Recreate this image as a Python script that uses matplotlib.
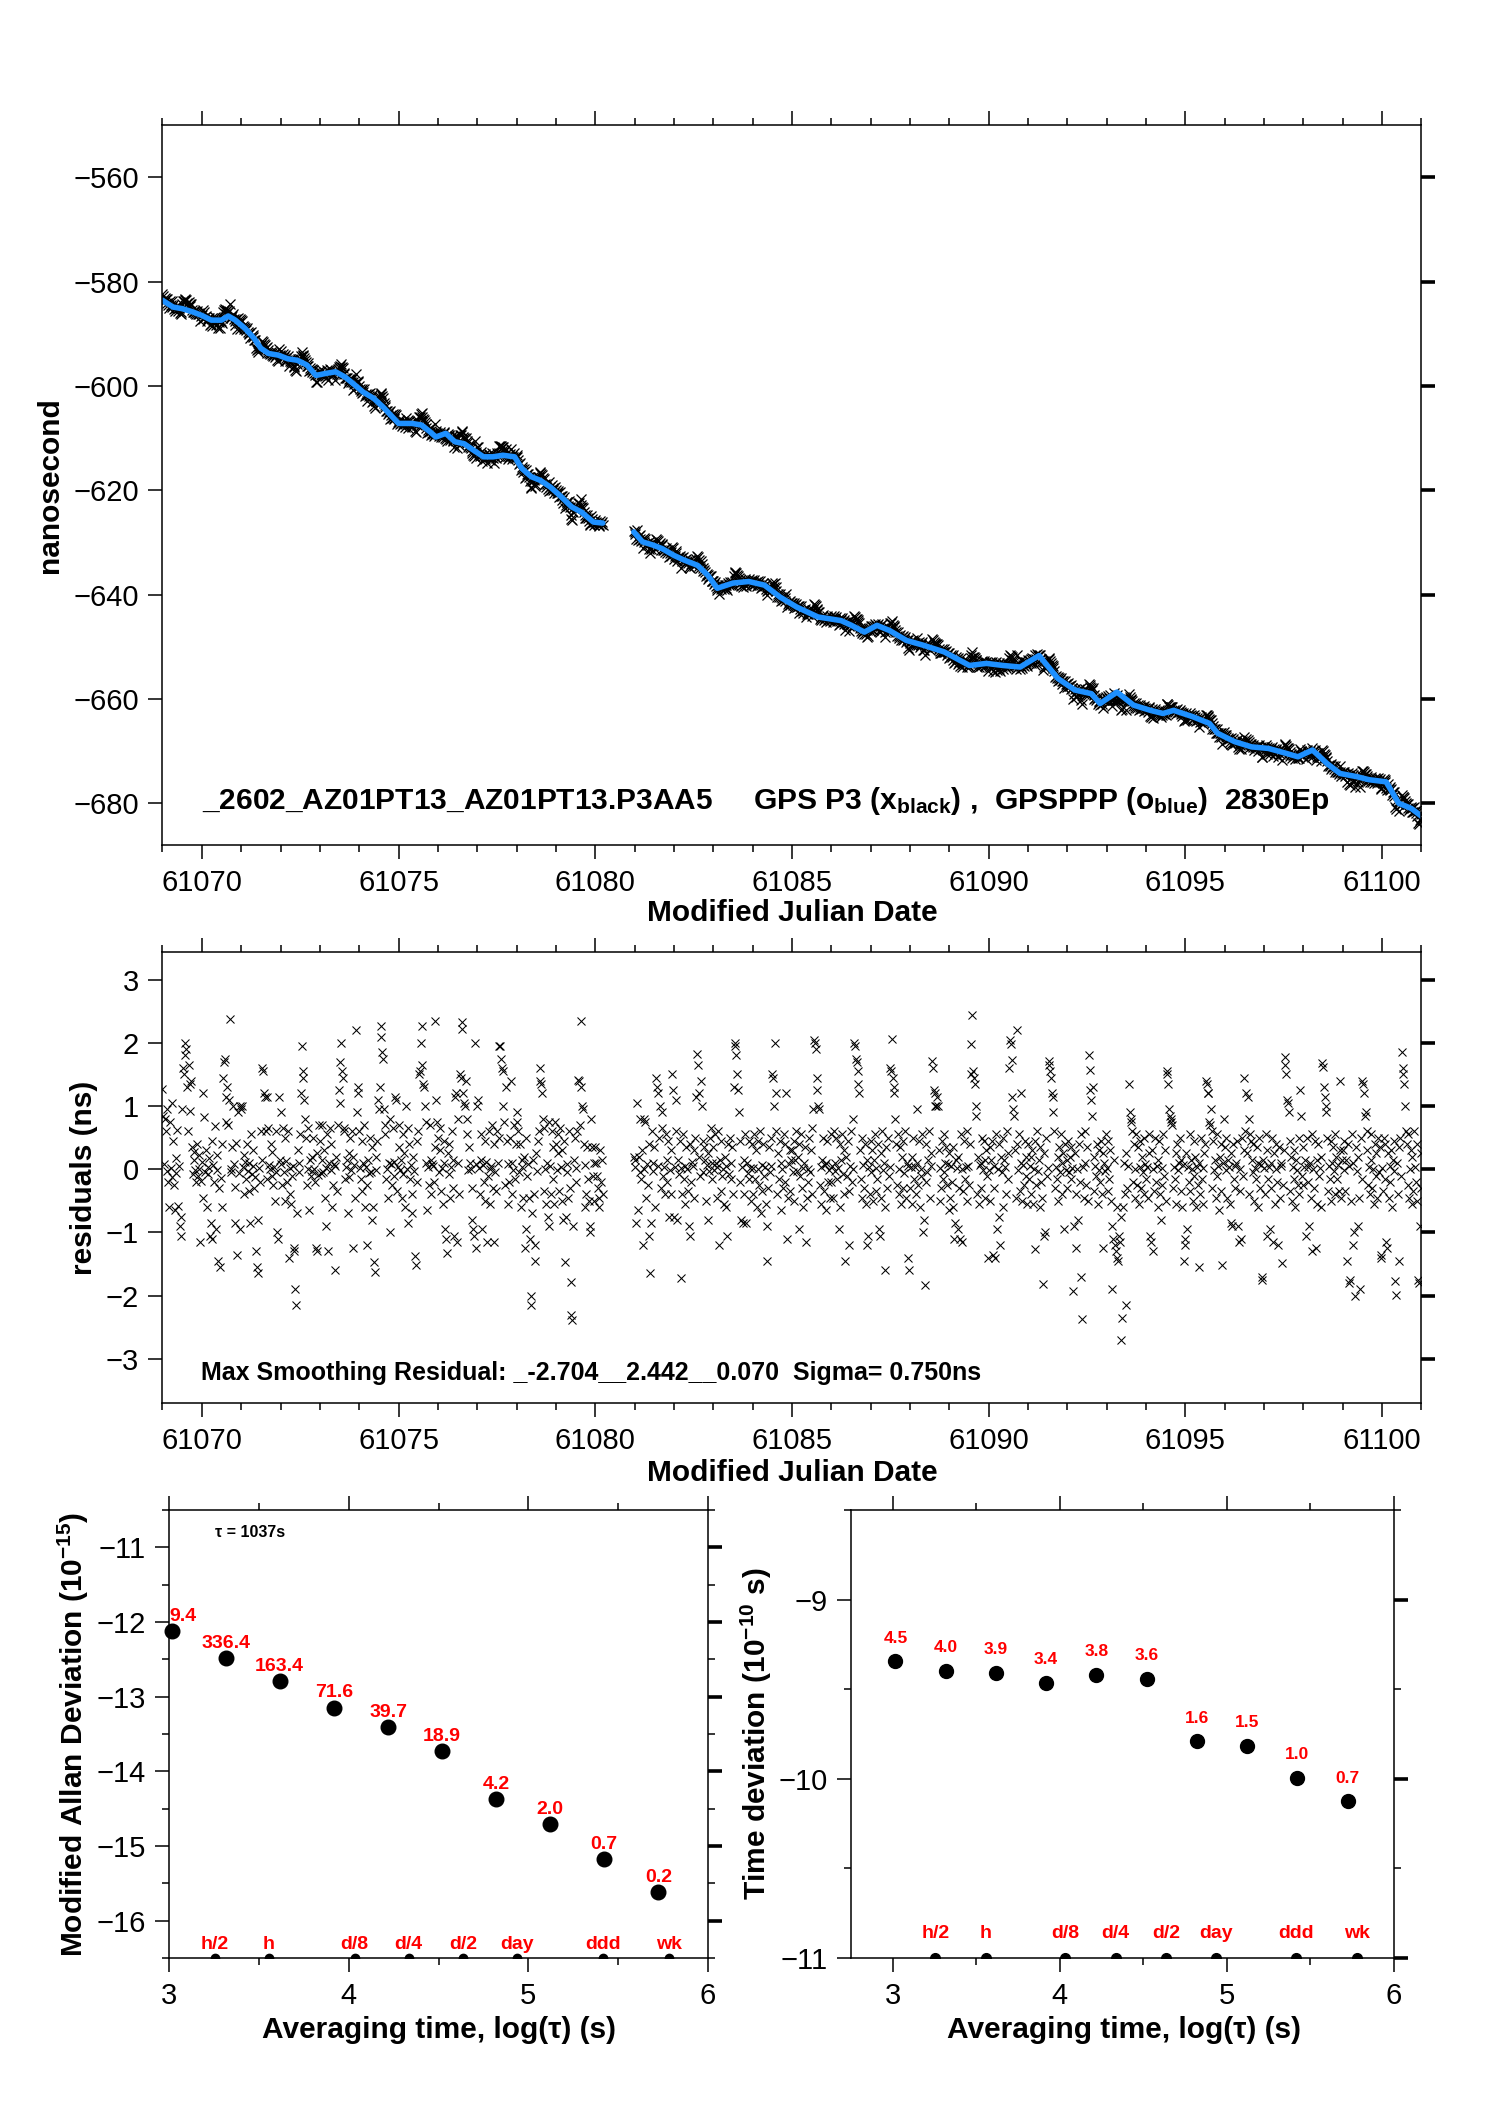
import numpy as np
import matplotlib
matplotlib.use('Agg')
import matplotlib.pyplot as plt
from matplotlib.ticker import MultipleLocator

plt.rcParams['font.family'] = ['Liberation Sans', 'DejaVu Sans']
plt.rcParams['mathtext.fontset'] = 'custom'
plt.rcParams['mathtext.rm'] = 'Liberation Sans'
plt.rcParams['mathtext.bf'] = 'Liberation Sans:bold'
plt.rcParams['mathtext.it'] = 'Liberation Sans:italic'

# ---------------- data ----------------
# smoothed GPSPPP curve (blue): MJD, ns
knot_a_mjd = [61069.0, 61069.27, 61069.5, 61069.76, 61070.0, 61070.24, 61070.5, 61070.67, 61070.85,
              61071.1, 61071.33, 61071.5, 61071.7, 61071.94, 61072.18, 61072.43, 61072.67, 61072.9,
              61073.16, 61073.4, 61073.64, 61073.9, 61074.1, 61074.37, 61074.6, 61074.8, 61075.0,
              61075.34, 61075.58, 61075.8, 61075.95, 61076.2, 61076.43, 61076.67, 61076.9, 61077.16,
              61077.4, 61077.65, 61077.95, 61078.13, 61078.37, 61078.6, 61078.86, 61079.1, 61079.4,
              61079.65, 61079.95, 61080.19]
knot_a_ns = [-583.6, -584.9, -585.2, -585.8, -586.5, -587.4, -587.4, -586.6, -587.4,
             -589.0, -590.9, -592.8, -593.8, -594.1, -594.8, -595.1, -596.0, -598.0,
             -597.6, -597.3, -598.3, -599.9, -601.2, -602.4, -604.0, -605.6, -607.2,
             -607.2, -607.5, -608.8, -609.8, -609.1, -610.7, -611.1, -612.3, -613.6,
             -613.6, -613.3, -613.6, -615.8, -617.4, -618.1, -619.4, -621.0, -623.2,
             -624.2, -626.1, -626.3]
knot_b_mjd = [61080.98, 61081.2, 61081.46, 61081.7, 61082.0, 61082.26, 61082.6, 61082.86, 61083.1,
              61083.5, 61083.9, 61084.3, 61084.7, 61085.12, 61085.66, 61086.25, 61086.51, 61086.84,
              61087.16, 61087.48, 61087.91, 61088.33, 61088.87, 61089.51, 61089.94, 61090.37,
              61090.8, 61091.28, 61091.76, 61092.19, 61092.61, 61092.83, 61093.26, 61093.68,
              61094.11, 61094.43, 61094.7, 61095.18, 61095.61, 61095.82, 61096.25, 61096.68,
              61097.11, 61097.54, 61097.86, 61098.23, 61098.6, 61098.93, 61099.35, 61099.67,
              61100.1, 61100.42, 61100.74, 61101.0]
knot_b_ns = [-628.0, -629.9, -630.5, -631.2, -632.5, -633.4, -634.4, -636.3, -638.8,
             -637.8, -637.5, -638.2, -640.5, -642.4, -644.3, -645.0, -645.9, -647.2,
             -645.9, -646.9, -648.8, -649.7, -651.0, -653.6, -653.2, -653.6,
             -653.9, -651.7, -656.1, -658.3, -659.0, -660.9, -658.7, -661.2,
             -662.2, -662.8, -662.2, -663.4, -664.7, -666.6, -668.2, -669.2,
             -669.5, -670.4, -671.1, -669.8, -672.4, -674.3, -674.9, -675.5,
             -675.9, -680.0, -681.0, -682.5]

# epochs: two segments sampled every half hour
epoch_step = 1.0 / 48.0
seg_a_start = 61069.0
seg_b_start = 61080.0 + 47.0 / 48.0

# smoothing residuals per day, in units of 0.01 ns
res_61069 = [127, 85, 8, 80, 60, -3, 95, -20, -60, 75, 2, 105, -12, 45, -25, -65, 18, -6, 62, -58, 5, -90, -105, -75,
             95, 160, 150, 180, 200, 190, 130, 60, 165, 135, 92, 140, 35, -8, 14, 28, -2, -20, 40, -10, 22, 0, -115, -18]
res_61070 = [12, 120, -45, 82, -4, 30, -60, 3, -8, 18, -105, -85, -110, 45, 7, -20, 68, -95, 22, -2, -145, -30, -155, -14,
             -60, 40, 145, 170, 175, 75, 115, 130, 70, 110, 238, 0, -5, 35, 100, 9, -28, -85, 42, -135, 90, -6, -95, 100]
res_61071 = [95, 100, 4, -40, 22, 11, -15, 40, -3, -35, 10, -85, 55, -8, 30, 5, -30, -12, -130, -155, -165, -80, 2, -20,
             60, 15, 160, 155, 120, 115, 60, -15, 115, 65, 6, 0, 40, -10, 28, -25, 3, -50, 60, -5, -100, -110, 115, 14]
res_61072 = [90, 8, -25, 65, -4, 50, -50, 13, -20, 60, -140, -40, 2, -55, -10, 5, -125, -130, -190, -215, -70, 30, -5, 10,
             55, 120, 195, 155, 145, 110, 80, 50, -25, 0, 65, -65, 15, -10, 20, -3, 50, 0, -20, -125, -130, 25, -9, 70]
res_61073 = [45, -6, 15, 70, -5, 30, -45, 2, -90, 55, -130, 10, 65, -2, 40, -60, -25, 8, -160, 5, 20, -35, 70, 125,
             105, 170, 200, 155, 145, 65, 60, -15, 4, 15, -70, 25, -12, 50, -1, 60, 20, -125, 7, -45, 220, 90, 130, 120]
res_61074 = [60, 2, -15, 45, -35, 10, 70, -60, 3, -25, -120, 15, -6, 50, -5, 35, -80, -60, -147, -163, 20, -2, 45, 110,
             95, 130, 227, 210, 185, 175, 95, 70, 55, -15, 0, -45, 10, -100, 80, 8, -25, 65, -10, 12, 115, 110, -35, 4]
res_61075 = [35, 70, -2, 15, -45, 55, -8, 25, -60, 100, 1, 65, -85, 40, -15, 6, -70, -40, 20, -3, -138, -152, 45, -20,
             60, 150, 155, 200, 227, 165, 135, 130, 100, 75, 10, -65, 4, -25, 70, 15, -40, 9, 5, -20, 35, 235, 110, 75]
res_61076 = [50, -5, 30, 65, -35, 2, -55, 45, 10, -95, -110, -133, 25, -7, 40, -45, 3, 60, -30, 15, -105, 115, 120, -115,
             80, 10, -40, 150, 145, 233, 222, 120, 105, 100, 140, 80, 55, -2, 35, 10, 0, -80, -30, -95, -105, 200, -125, 8]
res_61077 = [100, 110, 2, -40, 55, 15, -95, 6, -20, 45, -50, 12, -115, -10, 60, 0, -55, 5, 70, -30, -115, 40, -4, -35,
             60, 10, 50, 195, 195, 175, 160, 155, 100, 75, -25, 130, 45, -55, 8, -20, 50, 140, 10, -40, -2, 70, -15, 40]
res_61078 = [90, 75, 60, -5, 40, -60, 15, 3, -45, 20, -125, -95, 50, -10, 8, -45, -110, -200, -215, -70, 15, -40, -120, -145,
             25, -3, 45, 60, 160, 140, 135, 120, 80, 65, -35, 0, -55, 10, -75, -90, 75, 5, -40, 60, -15, 35, -55, 75]
res_61079 = [40, -2, 55, 25, -35, 65, 3, -50, 30, -80, 45, -147, -75, -5, 8, -45, 60, -30, -178, -230, -238, -90, 15, 50,
             -20, 2, 60, 142, 140, 70, 235, 130, 100, 95, 40, -60, 6, -40, 35, -15, -50, -90, -100, 80, 35, -10, -50, 10]
res_61080a = [35, 10, -10, -30, -45, -60, 30, -20, 15, -40]
res_61080b = [20]
res_61081 = [15, 3, -85, 105, -65, 20, -5, 80, -15, 30, -120, 0, 80, 75, -45, 8, -25, 40, -105, -165, -85, 60, -3, 10,
             35, -60, 145, 130, 5, 120, 50, 100, -30, 65, 90, -10, 4, -40, 55, 15, -20, 45, -75, -2, 30, -40, 150, 125]
res_61082 = [-75, 3, 60, 110, -80, 15, -8, 45, 2, -172, -40, 55, -15, 5, -55, 35, 0, -35, -90, -105, 40, -20, 12, 5,
             -45, 30, 50, 115, 182, 165, 120, 20, -10, 140, 100, 45, -4, 35, 15, -50, 7, -80, 25, -3, 50, 65, -15, 10]
res_61083 = [35, -2, 55, 10, -45, 4, 60, -120, 15, -35, 45, -10, 0, -55, 20, 5, -60, -105, 40, -7, 50, -15, 10, 35,
             -40, 130, 200, 195, 180, 150, 125, 90, 45, -20, -80, 3, -85, 15, -40, 55, -85, 10, -6, 45, -15, 2, -50, 40]
res_61084 = [2, -40, 55, -15, 30, -60, 0, 45, -25, 60, -70, 6, -35, 40, -10, 3, -55, -90, -145, -30, 35, -4, 50, 5,
             150, 145, 100, 200, 120, 60, -40, 25, -15, 45, -65, 10, 1, -30, 55, -20, 40, 121, -110, -45, 8, 30, -35, 15]
res_61085 = [30, -5, 45, -50, 15, 60, -3, 20, -95, 40, -10, 55, -30, 2, -60, 10, 35, -115, -45, 0, -20, 50, -5, 30,
             -40, 65, 95, 205, 200, 190, 145, 125, 100, 95, -25, 4, -55, 15, 50, -35, 7, -65, 10, 45, -20, -2, -45, 55]
res_61086 = [-20, 5, -45, 60, 10, -3, 50, -15, 2, -95, 40, -60, 15, 55, -8, 30, -40, -145, 20, -10, 45, -35, -120, 5,
             60, -20, 0, 80, 200, 195, 175, 170, 155, 135, 120, 30, -15, 50, -45, 6, -30, 40, -55, 15, -120, -105, 3, -40]
res_61087 = [45, -5, 30, -50, 15, 55, -35, 2, -15, 40, -95, -105, 25, -45, 60, -2, 10, -60, -160, 35, -30, 50, -10, 3,
             160, 155, 206, 145, 130, 120, 80, 40, -25, 55, -40, 0, 35, -55, 20, -30, 45, -6, 60, -45, 10, 5, -140, -160]
res_61088 = [-30, 4, -55, 20, 50, -15, 3, -40, 95, 10, -25, 45, -60, 0, -10, 55, -100, -80, -183, -20, 40, -5, 15, 60,
             -45, 25, 5, 172, 160, 125, 120, 100, 100, 115, 100, 30, -50, 2, -30, 45, -15, 55, -4, 10, 35, -25, 8, -65]
res_61089 = [25, -45, 5, -20, 35, -60, -110, -85, 15, 2, -95, 20, -30, -110, 55, -115, 0, -35, 45, -15, 3, -50, 60, 5,
             -25, 40, 150, 198, 244, 155, 145, 135, 100, 85, -40, 20, -55, 6, 10, -30, 50, -2, 45, -45, 15, 30, -10, -140]
res_61090 = [-2, 35, -50, 15, 45, -135, -30, 5, -140, 55, -95, 0, -75, 40, -120, 20, -4, 50, -60, 15, 3, -40, 60, -15,
             25, 160, 205, 198, 173, 115, 95, 85, 30, -45, 221, 40, -2, 55, -35, 120, 10, -50, 6, -25, 45, -10, 20, -55]
res_61091 = [40, -15, 5, -40, 20, 30, -55, 0, -126, 45, -25, 60, -3, 15, -60, 35, -20, -45, -181, -105, 25, -100, 50, -10,
             2, 172, 165, 155, 145, 120, 115, 90, 60, -30, 4, -15, 20, -50, 35, -5, 55, 10, -40, 25, -95, 40, -2, 15]
res_61092 = [-30, 45, -5, 20, 35, -15, 2, -193, -90, 25, -125, -40, 0, -80, 40, -20, 55, -170, -237, 3, -45, 10, 60, -25,
             35, -50, 180, 157, 125, 110, 85, 130, 20, -35, 5, -10, 40, -55, -2, 30, -20, 45, -40, -125, 25, 10, -3, 55]
res_61093 = [2, -35, 45, -15, 30, -50, -190, -90, -110, 15, -120, -130, -60, -140, -145, -105, -115, -75, -270, -236, -60, 10, -40, -215,
             25, -30, 5, 135, 90, 80, 75, 60, -20, 40, -45, 0, 55, -25, 35, -55, 3, 45, -30, 20, -5, 50, -40, 8]
res_61094 = [-15, 4, -45, 25, 55, -105, -115, 30, -130, 0, -35, 50, -20, 5, -60, 15, 45, -40, -80, 2, -25, 55, -10, 30,
             -50, 155, 150, 135, 95, 85, 80, 75, 70, -30, 3, -15, 25, -55, 40, -2, 10, 50, -35, 15, -60, 6, -145, -120]
res_61095 = [-110, 25, -95, 4, -20, 55, -35, 15, 0, -50, 45, -10, 20, -60, 3, -25, -155, 10, -40, 50, -15, 2, -55, 25,
             40, 140, 135, 120, 120, 75, 70, 95, 60, -30, 45, -2, 15, -45, 55, -10, 5, -65, 20, -35, 40, -152, 10, 80]
res_61096 = [35, -2, 50, -45, 15, 3, -55, 25, -85, -90, 40, -15, 5, -30, 10, 45, -90, -115, 0, -35, -110, 50, -10, 30,
             145, 60, 120, 25, 115, 80, -40, 55, 45, 15, -4, 40, -50, 2, -15, 35, -60, 10, 50, -30, 6, -175, -170, 15]
res_61097 = [2, -40, 55, -105, 30, -15, 4, -95, 10, -30, 50, -115, 25, -55, 0, 40, -20, -120, 35, -45, 10, 5, -148, -25,
             30, 178, 165, 150, 110, 105, 90, 45, -35, 20, -50, 3, -15, 30, -60, 15, -2, -25, 50, -40, 125, 85, -10, 35]
res_61098 = [-25, 4, 15, -105, 50, -20, 3, -90, 10, -45, 55, -130, 0, -30, 45, -125, 15, -55, 40, -10, 2, -60, 20, 168,
             162, 130, 115, 100, 90, 50, -35, 5, -15, 45, -50, 10, 35, -3, 55, -40, 20, -15, 6, -35, 30, 140, -45, 15]
res_61099 = [30, -2, 45, -35, 15, -145, 40, -180, 5, -175, -50, 55, -120, 10, -100, -200, 35, -3, -90, 20, -45, -190, 50, -15,
             140, 135, 120, 85, 90, 60, 30, -25, 4, -40, 15, 55, -30, 0, -55, 40, -10, 25, -45, 50, -5, 35, -135, -140]
res_61100 = [2, -35, 50, -15, 40, -115, -125, 25, -45, 5, -20, 30, -60, 15, 45, -3, -177, -199, 10, -40, 35, -145, 50, -10,
             185, 160, 150, 135, 100, 60, 40, -25, 55, -45, 0, 30, -55, 20, -35, 60, 4, -20, 40, -50, -175, -180, -90, 25]
res_61101 = [-30]

resid_a_cns = (res_61069 + res_61070 + res_61071 + res_61072 + res_61073 + res_61074 + res_61075 +
               res_61076 + res_61077 + res_61078 + res_61079 + res_61080a)
resid_b_cns = (res_61080b + res_61081 + res_61082 + res_61083 + res_61084 + res_61085 + res_61086 +
               res_61087 + res_61088 + res_61089 + res_61090 + res_61091 + res_61092 + res_61093 +
               res_61094 + res_61095 + res_61096 + res_61097 + res_61098 + res_61099 + res_61100 + res_61101)

# stability panels
log_tau = [3.016, 3.317, 3.616, 3.918, 4.219, 4.520, 4.820, 5.122, 5.422, 5.724]
mdev_log = [-12.117, -12.479, -12.787, -13.144, -13.404, -13.729, -14.372, -14.702, -15.176, -15.617]
mdev_labels = ["9.4", "336.4", "163.4", "71.6", "39.7", "18.9", "4.2", "2.0", "0.7", "0.2"]
tdev_log = [-9.343, -9.396, -9.409, -9.465, -9.420, -9.442, -9.790, -9.816, -9.993, -10.124]
tdev_labels = ["4.5", "4.0", "3.9", "3.4", "3.8", "3.6", "1.6", "1.5", "1.0", "0.7"]
mark_tau_s = [1800, 3600, 10800, 21600, 43200, 86400, 259200, 604800]
mark_labels = ["h/2", "h", "d/8", "d/4", "d/2", "day", "ddd", "wk"]

# ---------------- figure ----------------
BLUE = '#1e90ff'
RED = '#ff0000'
TICK_FS = 21
LAB_FS = 21.5

fig = plt.figure(figsize=(14.88, 21.05), dpi=100)
ax1 = fig.add_axes([0.1092, 0.5986, 0.8461, 0.3420])
ax2 = fig.add_axes([0.1092, 0.3335, 0.8461, 0.2143])
ax3 = fig.add_axes([0.1136, 0.0698, 0.3622, 0.2128])
ax4 = fig.add_axes([0.5719, 0.0698, 0.3649, 0.2128])


def style(ax):
    ax.tick_params(which='both', direction='out', top=True, right=True,
                   labelsize=TICK_FS, width=1.1, colors='black')
    ax.tick_params(which='major', length=10)
    ax.tick_params(which='minor', length=5)
    ax.tick_params(axis='x', pad=7)
    ax.tick_params(axis='y', pad=7)
    for s in ax.spines.values():
        s.set_linewidth(1.1)


def thick_right(ax):
    for t in ax.yaxis.get_major_ticks():
        t.tick2line.set_markeredgewidth(2.6)


def place_labels(ax, xl, yl, xpos, ypos):
    ax.set_xlabel(xl, fontsize=LAB_FS, fontweight='bold')
    ax.set_ylabel(yl, fontsize=LAB_FS, fontweight='bold')
    ax.xaxis.label.set_verticalalignment('center')
    ax.yaxis.label.set_verticalalignment('center')
    ax.xaxis.set_label_coords(xpos[0], xpos[1])
    ax.yaxis.set_label_coords(ypos[0], ypos[1])


ep_a = seg_a_start + np.arange(len(resid_a_cns)) * epoch_step
ep_b = seg_b_start + np.arange(len(resid_b_cns)) * epoch_step
res_a = np.array(resid_a_cns) / 100.0
res_b = np.array(resid_b_cns) / 100.0
raw_a = np.interp(ep_a, knot_a_mjd, knot_a_ns) + res_a
raw_b = np.interp(ep_b, knot_b_mjd, knot_b_ns) + res_b

# ---- panel 1
for ep, raw in ((ep_a, raw_a), (ep_b, raw_b)):
    ax1.plot(ep, raw, linestyle='none', marker='x', ms=7, mew=0.9, color='black')
ax1.plot(knot_a_mjd, knot_a_ns, color=BLUE, lw=4.0, solid_capstyle='round')
ax1.plot(knot_b_mjd, knot_b_ns, color=BLUE, lw=4.0, solid_capstyle='round')
ax1.set_xlim(61069, 61101)
ax1.set_ylim(-688, -550)
ax1.xaxis.set_major_locator(MultipleLocator(5))
ax1.xaxis.set_minor_locator(MultipleLocator(1))
ax1.yaxis.set_major_locator(MultipleLocator(20))
style(ax1)
thick_right(ax1)
place_labels(ax1, 'Modified Julian Date', 'nanosecond', (0.5, -0.095), (-0.089, 0.5))
ax1.text(0.0314, 0.050,
         r"_2602_AZ01PT13_AZ01PT13.P3AA5     GPS P3 (x$_{\mathbf{black}}$) ,  GPSPPP (o$_{\mathbf{blue}}$)  2830Ep",
         transform=ax1.transAxes, fontsize=21.5, fontweight='bold', va='baseline', ha='left')

# ---- panel 2
for ep, r in ((ep_a, res_a), (ep_b, res_b)):
    ax2.plot(ep, r, linestyle='none', marker='x', ms=5.2, mew=0.75, color='black')
ax2.set_xlim(61069, 61101)
ax2.set_ylim(-3.70, 3.44)
ax2.xaxis.set_major_locator(MultipleLocator(5))
ax2.xaxis.set_minor_locator(MultipleLocator(1))
ax2.yaxis.set_major_locator(MultipleLocator(1))
style(ax2)
thick_right(ax2)
place_labels(ax2, 'Modified Julian Date', 'residuals (ns)', (0.5, -0.155), (-0.062, 0.5))
ax2.text(0.0306, 0.051, "Max Smoothing Residual: _-2.704__2.442__0.070  Sigma= 0.750ns",
         transform=ax2.transAxes, fontsize=18, fontweight='bold', va='baseline', ha='left')

# ---- panel 3 : modified Allan deviation
mark_x = np.log10(mark_tau_s)
ax3.plot(log_tau, mdev_log, linestyle='none', marker='o', ms=10.5, color='black', clip_on=False)
ax3.plot(mark_x, np.zeros(len(mark_x)), linestyle='none', marker='o', ms=6, color='black',
         transform=ax3.get_xaxis_transform(), clip_on=True)
ax3.set_xlim(3, 6)
ax3.set_ylim(-16.5, -10.5)
for i, (x, y, lbl) in enumerate(zip(log_tau, mdev_log, mdev_labels)):
    if i == 0:
        ax3.annotate(lbl, (3.0, y), xytext=(0, 10.5), textcoords='offset points', ha='left', va='center',
                     color=RED, fontsize=14, fontweight='bold')
    else:
        ax3.annotate(lbl, (x, y), xytext=(0, 10.5), textcoords='offset points', ha='center', va='center',
                     color=RED, fontsize=14, fontweight='bold')
for x, lbl in zip(mark_x, mark_labels):
    ax3.annotate(lbl, (x, 0), xycoords=ax3.get_xaxis_transform(), xytext=(0, 10), textcoords='offset points',
                 ha='center', va='center', color=RED, fontsize=14, fontweight='bold')
ax3.text(0.085, 0.951, "τ = 1037s", transform=ax3.transAxes, fontsize=11.5, fontweight='bold',
         va='center', ha='left')
ax3.xaxis.set_major_locator(MultipleLocator(1))
ax3.xaxis.set_minor_locator(MultipleLocator(0.5))
ax3.yaxis.set_major_locator(MultipleLocator(1))
ax3.yaxis.set_minor_locator(MultipleLocator(0.5))
style(ax3)
thick_right(ax3)
place_labels(ax3, 'Averaging time, log(τ) (s)', r'Modified Allan Deviation (10$^{\mathbf{-15}}$)',
             (0.5, -0.16), (-0.178, 0.5))

# ---- panel 4 : time deviation
ax4.plot(log_tau, tdev_log, linestyle='none', marker='o', ms=10, color='black', clip_on=False)
ax4.plot(mark_x, np.zeros(len(mark_x)), linestyle='none', marker='o', ms=7, color='black',
         transform=ax4.get_xaxis_transform(), clip_on=True)
ax4.set_xlim(2.75, 6)
ax4.set_ylim(-11, -8.5)
for x, y, lbl in zip(log_tau, tdev_log, tdev_labels):
    ax4.annotate(lbl, (x, y), xytext=(0, 16.6), textcoords='offset points', ha='center', va='center',
                 color=RED, fontsize=12.5, fontweight='bold')
for x, lbl in zip(mark_x, mark_labels):
    ax4.annotate(lbl, (x, 0), xycoords=ax4.get_xaxis_transform(), xytext=(0, 17.7), textcoords='offset points',
                 ha='center', va='center', color=RED, fontsize=14, fontweight='bold')
ax4.xaxis.set_major_locator(MultipleLocator(1))
ax4.xaxis.set_minor_locator(MultipleLocator(0.5))
ax4.yaxis.set_major_locator(MultipleLocator(1))
ax4.yaxis.set_minor_locator(MultipleLocator(0.5))
style(ax4)
thick_right(ax4)
place_labels(ax4, 'Averaging time, log(τ) (s)', r'Time deviation (10$^{\mathbf{-10}}$ s)',
             (0.503, -0.16), (-0.174, 0.5))

fig.savefig('out.png', dpi=100, facecolor='white')
